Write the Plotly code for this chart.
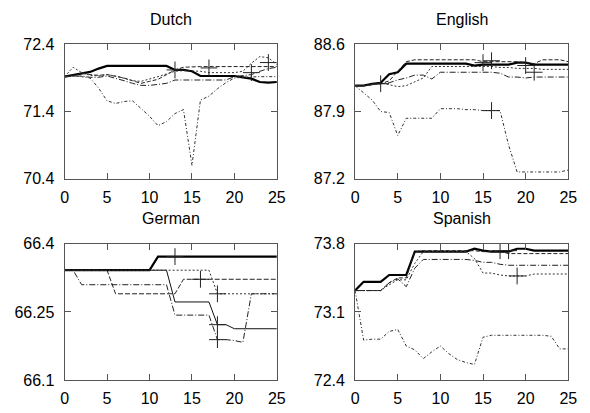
import plotly.graph_objects as go

x = list(range(26))

# ---------------- Dutch ----------------
dutch_a = [71.92, 71.94, 71.97, 71.99, 72.04, 72.08, 72.08, 72.08, 72.08, 72.08, 72.08, 72.08, 72.08,
           72.02, 72.02, 72.00, 71.93, 71.93, 71.93, 71.93, 71.93, 71.91, 71.89, 71.84, 71.83, 71.84]
dutch_b = [71.92, 71.93, 71.92, 71.90, 71.75, 71.56, 71.52, 71.55, 71.56, 71.45, 71.33, 71.19, 71.25,
           71.37, 71.43, 70.60, 71.57, 71.63, 71.74, 71.83, 71.90, 71.91, 71.92, 71.92, 71.92, 71.92]
dutch_c = [71.92, 71.95, 71.97, 71.95, 71.94, 71.95, 71.93, 71.90, 71.86, 71.82, 71.85, 71.88, 71.95,
           72.02, 72.06, 72.07, 72.07, 72.07, 72.07, 72.07, 72.07, 72.07, 72.07, 72.07, 72.07, 72.07]
dutch_d = [71.92, 72.06, 71.98, 71.94, 71.93, 71.95, 71.93, 71.90, 71.86, 71.85, 71.88, 71.92, 71.96,
           72.00, 72.01, 72.01, 72.00, 71.98, 71.98, 71.98, 71.98, 72.00, 72.12, 72.22, 72.20, 72.10]
dutch_e = [71.92, 71.93, 71.93, 71.91, 71.91, 71.93, 71.90, 71.86, 71.82, 71.79, 71.79, 71.80, 71.82,
           71.87, 71.87, 71.87, 71.87, 71.87, 71.87, 71.87, 71.92, 71.93, 71.95, 72.00, 72.04, 72.06]
dutch_mx = [13, 17, 22, 24]
dutch_my = [72.02, 72.05, 71.98, 72.13]

# ---------------- English ----------------
english_a = [88.17, 88.17, 88.19, 88.20, 88.29, 88.31, 88.40, 88.40, 88.40, 88.40, 88.40, 88.40, 88.40,
             88.40, 88.38, 88.39, 88.39, 88.39, 88.39, 88.41, 88.41, 88.39, 88.39, 88.39, 88.39, 88.39]
english_b = [88.17, 88.09, 88.02, 87.90, 87.89, 87.65, 87.83, 87.83, 87.83, 87.83, 87.93, 87.93, 87.93,
             87.92, 87.92, 87.91, 87.91, 87.91, 87.55, 87.27, 87.27, 87.27, 87.27, 87.27, 87.27, 87.29]
english_c = [88.17, 88.17, 88.18, 88.19, 88.22, 88.32, 88.42, 88.44, 88.44, 88.44, 88.44, 88.44, 88.44,
             88.44, 88.44, 88.42, 88.42, 88.42, 88.42, 88.42, 88.41, 88.40, 88.44, 88.44, 88.44, 88.42]
english_d = [88.17, 88.17, 88.18, 88.20, 88.18, 88.16, 88.17, 88.21, 88.25, 88.37, 88.37, 88.37, 88.37,
             88.37, 88.37, 88.37, 88.37, 88.36, 88.36, 88.35, 88.35, 88.35, 88.34, 88.34, 88.34, 88.34]
english_e = [88.17, 88.17, 88.18, 88.19, 88.20, 88.23, 88.25, 88.28, 88.28, 88.24, 88.31, 88.31, 88.31,
             88.31, 88.31, 88.31, 88.31, 88.30, 88.26, 88.26, 88.25, 88.26, 88.26, 88.26, 88.26, 88.26]
english_mx = [3, 15, 16, 20, 21, 16]
english_my = [88.19, 88.41, 88.43, 88.38, 88.31, 87.91]

# ---------------- German ----------------
german_a = [66.342] * 11 + [66.372] * 15
german_b = [66.342] * 13 + [66.272] * 5 + [66.222, 66.222, 66.213] + [66.213] * 5
german_c = [66.342] * 6 + [66.290] * 8 + [66.322] * 12
german_d = [66.342] * 18 + [66.290] * 8
german_e = [66.342, 66.342] + [66.310] * 11 + [66.243] * 5 + [66.189, 66.189, 66.187, 66.183] + [66.290] * 4
german_mx = [13, 16, 18, 18, 18]
german_my = [66.372, 66.322, 66.290, 66.222, 66.189]

# ---------------- Spanish ----------------
spanish_a = [73.32, 73.41, 73.41, 73.41, 73.48, 73.48, 73.48, 73.72, 73.72, 73.72, 73.72, 73.72, 73.72,
             73.72, 73.75, 73.73, 73.72, 73.72, 73.72, 73.75, 73.75, 73.73, 73.73, 73.73, 73.73, 73.73]
spanish_b = [73.32, 72.81, 72.82, 72.82, 72.90, 72.92, 72.75, 72.71, 72.62, 72.69, 72.75, 72.67, 72.61,
             72.58, 72.56, 72.84, 72.86, 72.86, 72.86, 72.86, 72.86, 72.86, 72.86, 72.85, 72.72, 72.72]
spanish_c = [73.32, 73.32, 73.32, 73.32, 73.40, 73.45, 73.45, 73.72, 73.73, 73.73, 73.73, 73.73, 73.73,
             73.73, 73.73, 73.72, 73.72, 73.72, 73.70, 73.70, 73.70, 73.70, 73.70, 73.70, 73.70, 73.70]
spanish_d = [73.32, 73.32, 73.32, 73.32, 73.40, 73.44, 73.36, 73.55, 73.64, 73.64, 73.64, 73.64, 73.64,
             73.64, 73.63, 73.61, 73.61, 73.59, 73.58, 73.58, 73.58, 73.58, 73.58, 73.58, 73.58, 73.58]
spanish_e = [73.32, 73.32, 73.32, 73.32, 73.38, 73.43, 73.43, 73.60, 73.72, 73.72, 73.72, 73.72, 73.72,
             73.72, 73.65, 73.50, 73.50, 73.48, 73.47, 73.47, 73.47, 73.49, 73.49, 73.49, 73.49, 73.49]
spanish_mx = [17, 18, 19]
spanish_my = [73.73, 73.73, 73.47]

titles = ["Dutch", "English", "German", "Spanish"]
y_ranges = [[70.4, 72.4], [87.2, 88.6], [66.1, 66.4], [72.4, 73.8]]
y_ticks = [[70.4, 71.4, 72.4], [87.2, 87.9, 88.6], [66.1, 66.25, 66.4], [72.4, 73.1, 73.8]]
y_ticktext = [["70.4", "71.4", "72.4"], ["87.2", "87.9", "88.6"], ["66.1", "66.25", "66.4"],
              ["72.4", "73.1", "73.8"]]
x_ticks = [0, 5, 10, 15, 20, 25]

panels = [
    [dutch_a, dutch_c, dutch_d, dutch_e, dutch_b],
    [english_a, english_c, english_d, english_e, english_b],
    [german_a, german_b, german_c, german_d, german_e],
    [spanish_a, spanish_c, spanish_e, spanish_d, spanish_b],
]
markers = [(dutch_mx, dutch_my), (english_mx, english_my), (german_mx, german_my), (spanish_mx, spanish_my)]

styles = [
    dict(color="#000000", width=2.2, dash="solid"),
    dict(color="#222222", width=1, dash="4px,2px"),
    dict(color="#333333", width=1, dash="2px,2px"),
    dict(color="#222222", width=1, dash="6px,2px,1px,2px"),
    dict(color="#333333", width=1, dash="3px,2px,1px,2px"),
]
german_styles = [
    dict(color="#000000", width=2.2, dash="solid"),
    dict(color="#111111", width=1, dash="solid"),
    dict(color="#222222", width=1, dash="5px,2px"),
    dict(color="#333333", width=1, dash="2px,2px"),
    dict(color="#222222", width=1, dash="6px,2px,1px,2px"),
]

xdom = [[62 / 590, 279 / 590], [359 / 590, 577 / 590]]
ydom = [[1 - 178 / 413, 1 - 38 / 413], [1 - 388 / 413, 1 - 246 / 413]]

fig = go.Figure()
font = dict(family="Liberation Sans, Arial, sans-serif", size=16, color="#000000")

for i, series in enumerate(panels):
    r, c = divmod(i, 2)
    n = "" if i == 0 else str(i + 1)
    st = german_styles if i == 2 else styles
    for j, ys in enumerate(series):
        fig.add_trace(go.Scatter(x=x, y=ys, mode="lines", line=st[j], showlegend=False,
                                 xaxis="x" + n, yaxis="y" + n))
    mx, my = markers[i]
    fig.add_trace(go.Scatter(x=mx, y=my, mode="markers", showlegend=False,
                             marker=dict(symbol="cross-thin-open", size=12, color="#222222",
                                         line=dict(color="#222222", width=1)),
                             xaxis="x" + n, yaxis="y" + n))
    axis_common = dict(showline=True, linecolor="#555555", linewidth=1, mirror="ticks",
                       ticks="inside", ticklen=6, tickcolor="#555555", showgrid=False,
                       zeroline=False, tickfont=font)
    fig.update_layout(**{
        "xaxis" + n: dict(domain=xdom[c], range=[0, 25], tickvals=x_ticks,
                          anchor="y" + n, ticklabelstandoff=4, **axis_common),
        "yaxis" + n: dict(domain=ydom[r], range=y_ranges[i], tickvals=y_ticks[i],
                          ticktext=y_ticktext[i], anchor="x" + n, ticklabelstandoff=6,
                          **axis_common),
    })
    fig.add_annotation(text=titles[i], xref="paper", yref="paper",
                       x=sum(xdom[c]) / 2, y=ydom[r][1] + 15 / 413, xanchor="center",
                       yanchor="bottom", showarrow=False,
                       font=dict(family="Liberation Sans, Arial, sans-serif", size=16, color="#000"))

fig.update_layout(width=590, height=413, margin=dict(l=0, r=0, t=0, b=0),
                  paper_bgcolor="white", plot_bgcolor="white")
fig.write_html("out.html")
